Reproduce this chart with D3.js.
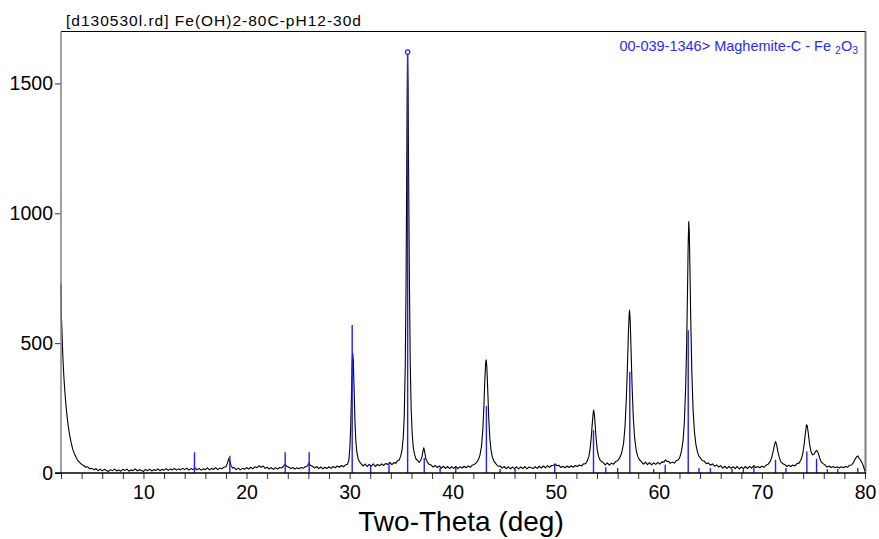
<!DOCTYPE html>
<html>
<head>
<meta charset="utf-8">
<script src="https://cdn.jsdelivr.net/npm/d3@7"></script>
<style>
  body { margin: 0; background: #fff; }
  svg { display: block; font-family: "Liberation Sans", Arial, sans-serif; }
</style>
</head>
<body>
<div id="container"></div>
<script>
/* DATA - scan as [2theta, counts] */
const scanLow = [
  [2.00,730],[2.03,612],[2.08,560],[2.14,490],[2.20,430],[2.28,370],[2.38,310],[2.48,262],[2.58,222],
  [2.70,182],[2.84,146],[3.00,114],[3.15,90],[3.30,74],[3.45,61],[3.60,50],[3.80,41],[4.00,33],
  [4.20,29],[4.40,22],[4.60,24],[4.80,16],[5.0,18],[5.2,12],[5.4,17],[5.6,9],[5.8,15],[6.0,8],
  [6.2,14],[6.4,10],[6.6,6],[6.8,13],[7.0,9],[7.2,15],[7.4,8],[7.6,12],[7.8,7],[8.0,14],[8.2,10],
  [8.4,15],[8.6,7],[8.8,12],[9.0,9],[9.2,16],[9.4,8],[9.6,13],[9.8,10],[10.0,6],[10.2,14],[10.4,9],
  [10.6,15],[10.8,8],[11.0,13],[11.2,10],[11.4,16],[11.6,9],[11.8,14],[12.0,11],[12.2,17],[12.4,10],
  [12.6,15],[12.8,12],[13.0,18],[13.2,11],[13.4,16],[13.6,12],[13.8,18],[14.0,13]
];
const scanMidLow = [
  [14.2,19],[14.4,11],[14.6,17],[14.8,13],[15.0,20],[15.2,12],[15.4,18],[15.6,11],[15.8,16],
  [16.0,13],[16.2,20],[16.4,12],[16.6,17],[16.8,14],[17.0,21],[17.2,13],[17.4,19],[17.6,16],
  [17.8,22],[18.0,24],[18.15,38],[18.28,56],[18.4,44],[18.5,28],[18.65,19],[18.8,21],[19.0,13],
  [19.2,19],[19.4,12],[19.6,18],[19.8,14],[20.0,21],[20.2,15],[20.4,22],[20.6,16],[20.8,24],
  [21.0,20],[21.2,28],[21.4,22],[21.6,27],[21.8,18],[22.0,22],[22.2,15],[22.4,21],[22.6,14],
  [22.8,20],[23.0,15],[23.2,21],[23.4,19],[23.6,27],[23.75,34],[23.9,26],[24.1,22],[24.3,17],
  [24.5,21],[24.7,15],[24.9,20],[25.1,16],[25.3,21],[25.5,18],[25.7,24],[25.9,27],[26.05,38],
  [26.2,29],[26.4,26],[26.6,19],[26.8,25],[27.0,17],[27.2,23],[27.4,16],[27.6,22],[27.8,17],
  [28.0,24],[28.2,18],[28.4,25],[28.6,20],[28.8,27],[29.0,22],[29.2,29],[29.4,24],[29.6,31]
];
const scanMid = [
  [29.8,34],[29.92,48],[30.02,95],[30.1,170],[30.18,300],[30.25,430],[30.3,462],[30.36,430],
  [30.44,320],[30.52,200],[30.6,125],[30.7,80],[30.82,55],[30.95,44],[31.1,36],[31.3,27],
  [31.5,34],[31.7,25],[31.9,33],[32.1,26],[32.3,35],[32.5,25],[32.7,33],[32.9,28],[33.1,35],
  [33.3,29],[33.5,37],[33.7,33],[33.9,41],[34.1,32],[34.3,40],[34.5,38],[34.65,47],[34.8,50],
  [34.95,64],[35.08,88],[35.2,135],[35.3,220],[35.4,420],[35.47,700],[35.53,1080],[35.58,1440],
  [35.62,1612],[35.67,1480],[35.73,1120],[35.8,740],[35.88,430],[35.97,250],[36.07,150],
  [36.18,98],[36.3,72],[36.45,53],[36.6,49],[36.75,41],[36.9,49],[37.02,62],[37.12,85],
  [37.2,97],[37.28,82],[37.4,54],[37.55,42],[37.7,34],[37.9,31],[38.1,23],[38.3,29],[38.5,21],
  [38.7,27],[38.9,19],[39.1,26],[39.3,18],[39.5,25],[39.7,17],[39.9,24],[40.1,18],[40.3,25],
  [40.5,17],[40.7,24],[40.9,19],[41.1,26],[41.3,20],[41.5,27],[41.7,22],[41.9,30]
];
const scanMidHigh = [
  [42.1,33],[42.3,40],[42.5,52],[42.65,70],[42.8,105],[42.93,170],[43.03,260],[43.12,360],
  [43.2,425],[43.25,436],[43.31,410],[43.4,320],[43.5,210],[43.6,135],[43.72,88],[43.85,60],
  [44.0,46],[44.2,35],[44.4,26],[44.6,27],[44.8,19],[45.0,25],[45.2,17],[45.4,24],[45.6,16],
  [45.8,23],[46.0,17],[46.2,24],[46.4,16],[46.6,23],[46.8,17],[47.0,25],[47.2,16],[47.4,23],
  [47.6,20],[47.8,17],[48.0,24],[48.2,18],[48.4,26],[48.6,19],[48.8,27],[49.0,20],[49.2,28],
  [49.4,22],[49.6,29],[49.8,30],[49.95,35],[50.1,28],[50.3,30],[50.5,21],[50.7,26],[50.9,20],
  [51.1,27],[51.3,21],[51.5,28],[51.7,22],[51.9,29],[52.1,25],[52.3,31],[52.5,27],[52.7,35],
  [52.9,36],[53.05,46],[53.2,62],[53.33,92],[53.45,140],[53.55,195],[53.63,232],[53.68,242],
  [53.74,228],[53.82,185],[53.92,130],[54.03,88],[54.15,64],[54.3,50],[54.45,44],[54.6,40],
  [54.8,31],[55.0,39],[55.2,30],[55.4,38],[55.6,34],[55.8,44]
];
const scanHigh = [
  [56.0,47],[56.2,58],[56.4,78],[56.58,115],[56.72,180],[56.85,290],[56.96,420],[57.05,545],
  [57.12,610],[57.16,627],[57.22,590],[57.3,480],[57.4,340],[57.52,215],[57.65,135],[57.8,88],
  [57.95,64],[58.1,52],[58.3,44],[58.5,34],[58.7,42],[58.9,32],[59.1,40],[59.3,31],[59.5,39],
  [59.7,33],[59.9,41],[60.1,34],[60.3,43],[60.5,42],[60.65,51],[60.8,44],[60.95,45],[61.1,37],
  [61.3,42],[61.5,38],[61.7,48],[61.9,51],[62.05,63],[62.2,85],[62.35,125],[62.48,200],
  [62.6,330],[62.7,500],[62.78,700],[62.85,890],[62.9,968],[62.95,930],[63.02,780],[63.1,580],
  [63.2,390],[63.32,245],[63.45,160],[63.6,108],[63.75,80],[63.9,64],[64.05,57],[64.2,48],
  [64.4,46],[64.6,36],[64.8,39],[65.0,30],[65.2,35],[65.4,26],[65.6,31]
];
const scanTail = [
  [65.8,23],[66.0,28],[66.2,19],[66.4,26],[66.6,18],[66.8,25],[67.0,18],[67.2,24],[67.4,17],
  [67.6,25],[67.8,16],[68.0,23],[68.2,17],[68.4,25],[68.6,17],[68.8,26],[69.0,19],[69.2,29],
  [69.4,21],[69.6,25],[69.8,20],[70.0,26],[70.2,22],[70.4,30],[70.6,34],[70.8,44],[70.95,60],
  [71.1,85],[71.22,108],[71.32,121],[71.42,110],[71.55,82],[71.7,58],[71.85,43],[72.0,37],
  [72.2,33],[72.4,25],[72.6,30],[72.8,25],[73.0,31],[73.2,27],[73.4,36],[73.6,38],[73.8,52],
  [73.95,72],[74.1,110],[74.22,155],[74.32,186],[74.4,182],[74.5,152],[74.62,112],[74.75,84],
  [74.9,70],[75.05,72],[75.2,82],[75.32,87],[75.45,78],[75.6,58],[75.75,43],[75.9,37],
  [76.1,32],[76.3,23],[76.5,27],[76.7,21],[76.9,25],[77.1,20],[77.3,24],[77.5,19],[77.7,24],
  [77.9,20],[78.1,25],[78.3,22],[78.5,30],[78.7,31],[78.9,42],[79.05,54],[79.2,63],[79.3,66],
  [79.42,58],[79.55,50],[79.7,40],[79.85,27],[79.95,12],[80.0,6]
];

/* reference card 00-039-1346 Maghemite-C sticks: [2theta, counts] */
const stickPos = [14.95,18.38,23.75,26.08,30.25,32.04,33.82,35.63,37.24,38.78,40.3,43.27,44.6,46.05,
  49.9,53.66,54.85,56.0,57.18,59.5,60.62,62.85,63.9,65.0,67.1,68.2,69.22,71.32,72.33,74.36,75.3,
  76.35,77.36,79.3];
const stickInt = [80,66,80,80,570,27,38,1617,58,19,23,258,15,15,
  32,165,22,19,390,15,32,550,19,19,15,15,23,51,19,83,55,
  15,15,19];

const xTicks = [2,4,6,8,10,12,14,16,18,20,22,24,26,28,30,32,34,36,38,40,
  42,44,46,48,50,52,54,56,58,60,62,64,66,68,70,72,74,76,78,80];
const xLabels = [10,20,30,40,50,60,70,80];
const yTicks = [0,500,1000,1500];

const titleText = "[d130530l.rd] Fe(OH)2-80C-pH12-30d";
const xTitle = "Two-Theta (deg)";

/* LAYOUT */
const width = 879, height = 539;
const plotLeft = 61, plotRight = 865, plotTop = 31.5, plotBottom = 473;

const svg = d3.select("#container")
  .append("svg")
  .attr("width", width)
  .attr("height", height);

const xScale = d3.scaleLinear().domain([2, 80]).range([plotLeft, plotRight]);
const yScale = d3.scaleLinear().domain([0, 1700]).range([plotBottom, plotTop]);

const scan = [].concat(scanLow, scanMidLow, scanMid, scanMidHigh, scanHigh, scanTail);

// frame
svg.append("line")
  .attr("x1", plotLeft).attr("x2", plotRight + 1).attr("y1", plotTop).attr("y2", plotTop)
  .attr("stroke", "#000").attr("stroke-width", 1);
svg.append("line")
  .attr("x1", plotRight + 0.5).attr("x2", plotRight + 0.5).attr("y1", plotTop).attr("y2", plotBottom)
  .attr("stroke", "#808080").attr("stroke-width", 2);

// pattern
const line = d3.line()
  .x(d => xScale(d[0]))
  .y(d => yScale(d[1]));

svg.append("path")
  .datum(scan)
  .attr("fill", "none")
  .attr("stroke", "#000")
  .attr("stroke-width", 1.1)
  .attr("stroke-linejoin", "round")
  .attr("d", line);

// sticks
const sticks = stickPos.map((p, i) => ({pos: p, val: stickInt[i]}));
svg.append("g")
  .selectAll("line")
  .data(sticks)
  .join("line")
    .attr("x1", d => xScale(d.pos))
    .attr("x2", d => xScale(d.pos))
    .attr("y1", yScale(0))
    .attr("y2", d => yScale(d.val))
    .attr("stroke", "#1f1fff")
    .attr("stroke-width", 1.4);

const strongest = sticks.reduce((a, b) => (b.val > a.val ? b : a));
svg.append("circle")
  .attr("cx", xScale(strongest.pos))
  .attr("cy", yScale(strongest.val) - 1)
  .attr("r", 2.2)
  .attr("fill", "#fff")
  .attr("stroke", "#1f1fff")
  .attr("stroke-width", 1.2);

// axes
const xAxis = d3.axisBottom(xScale)
  .tickValues(xTicks)
  .tickSize(6)
  .tickPadding(6.5)
  .tickFormat(d => xLabels.includes(d) ? d : "");

const gx = svg.append("g")
  .attr("transform", `translate(0, ${plotBottom})`)
  .call(xAxis);
gx.select(".domain").remove();
gx.selectAll(".tick line").attr("stroke", "#333");
gx.selectAll("text")
  .attr("font-size", 19.5)
  .attr("font-family", "Liberation Sans, Arial, sans-serif")
  .attr("fill", "#000");

const yAxis = d3.axisLeft(yScale)
  .tickValues(yTicks)
  .tickSize(6)
  .tickPadding(2)
  .tickFormat(d => d);

const gy = svg.append("g")
  .attr("transform", `translate(${plotLeft}, 0)`)
  .call(yAxis);
gy.select(".domain").remove();
gy.selectAll(".tick line").attr("stroke", "#333");
gy.selectAll("text")
  .attr("font-size", 19.5)
  .attr("font-family", "Liberation Sans, Arial, sans-serif")
  .attr("fill", "#000");

svg.append("line")
  .attr("x1", plotLeft).attr("x2", plotLeft).attr("y1", plotTop).attr("y2", plotBottom)
  .attr("stroke", "#808080").attr("stroke-width", 1.5);
svg.append("line")
  .attr("x1", plotLeft - 6).attr("x2", plotRight + 1).attr("y1", plotBottom).attr("y2", plotBottom)
  .attr("stroke", "#000").attr("stroke-width", 1.3);

// texts
svg.append("text")
  .attr("x", 66)
  .attr("y", 26)
  .attr("font-size", 15.5)
  .attr("letter-spacing", 1)
  .text(titleText);

const legend = svg.append("text")
  .attr("x", 858)
  .attr("y", 51)
  .attr("text-anchor", "end")
  .attr("font-size", 14.5)
  .attr("fill", "#2a2aff");
legend.append("tspan").text("00-039-1346> Maghemite-C - Fe ");
legend.append("tspan").attr("font-size", 10.5).attr("dy", 3).text("2");
legend.append("tspan").attr("dy", -3).text("O");
legend.append("tspan").attr("font-size", 10.5).attr("dy", 3).text("3");

svg.append("text")
  .attr("x", 461)
  .attr("y", 531)
  .attr("text-anchor", "middle")
  .attr("font-size", 28)
  .text(xTitle);
</script>
</body>
</html>
